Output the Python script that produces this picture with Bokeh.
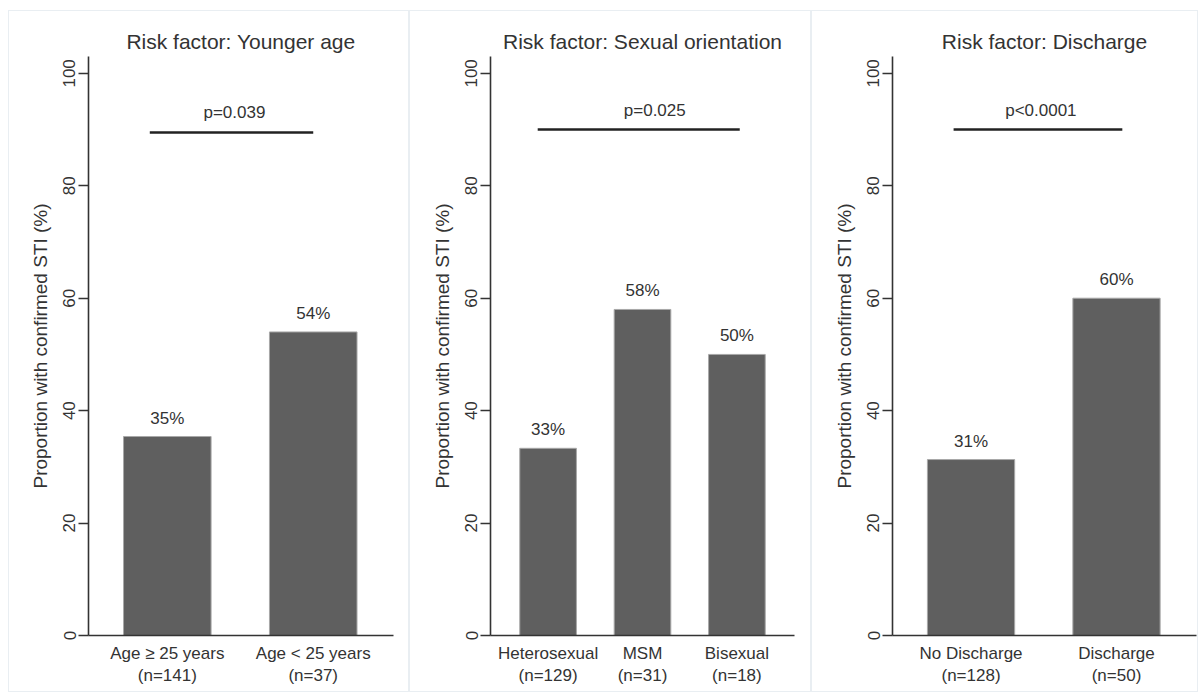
from bokeh.plotting import figure
from bokeh.layouts import row, column
from bokeh.models import FixedTicker, Range1d, ColumnDataSource, Spacer
from bokeh.core.properties import value
from bokeh.embed import file_html
from bokeh.resources import INLINE

# ---- data ----
titles = ["Risk factor: Younger age", "Risk factor: Sexual orientation", "Risk factor: Discharge"]

cats_age = ["Age \u2265 25 years", "Age < 25 years"]
n_age = [141, 37]
pct_age = [35.4, 54.0]

cats_sex = ["Heterosexual", "MSM", "Bisexual"]
n_sex = [129, 31, 18]
pct_sex = [33.3, 58.0, 50.0]

cats_dis = ["No Discharge", "Discharge"]
n_dis = [128, 50]
pct_dis = [31.3, 60.0]

p_texts = ["p=0.039", "p=0.025", "p<0.0001"]
p_line_y = [89.5, 90.0, 90.0]
p_line_from = [0.88, 0.89, 0.88]
p_line_to = [2.0, 3.03, 2.04]
p_text_x = [1.46, 2.13, 1.48]

y_ticks = [0, 20, 40, 60, 80, 100]
y_label = "Proportion with confirmed STI (%)"

FONT = "Liberation Sans"
TXT = "#333333"
BAR = "#5f5f5f"

panels = [
    (cats_age, n_age, pct_age, (0.46, 2.55), 401, 79, 17),
    (cats_sex, n_sex, pct_sex, (0.39, 3.61), 402, 80, 18),
    (cats_dis, n_dis, pct_dis, (0.46, 2.55), 387, 80, 3),
]

figs = []
for i, (cats, ns, pcts, xr, w, bl, br) in enumerate(panels):
    xs = list(range(1, len(cats) + 1))
    p = figure(width=w, height=682, x_range=Range1d(*xr), y_range=Range1d(0, 103),
               output_backend="svg", toolbar_location=None, title=titles[i],
               min_border_left=bl, min_border_right=br, min_border_top=45, min_border_bottom=58,
               styles={"border": "1px solid #e9eef2", "box-sizing": "border-box"})
    p.title.align = "center"
    p.title.text_font = FONT
    p.title.text_font_size = "21px"
    p.title.text_font_style = "normal"
    p.title.text_color = TXT
    p.title.standoff = 8
    p.grid.visible = False
    p.outline_line_color = None

    src = ColumnDataSource(dict(x=xs, top=pcts, lab=[f"{round(v)}%" for v in pcts]))
    p.vbar(x="x", top="top", width=0.6, source=src, fill_color=BAR, line_color="#a8a8a8", line_width=1)
    p.text(x="x", y="top", text="lab", source=src, text_align="center", text_baseline="bottom",
           y_offset=-9, text_font=value(FONT), text_font_size="17px", text_color=TXT)

    p.line(x=[p_line_from[i], p_line_to[i]], y=[p_line_y[i], p_line_y[i]], line_width=2.5, line_color="#222222")
    p.text(x=[p_text_x[i]], y=[p_line_y[i]], text=[p_texts[i]], text_align="center", text_baseline="bottom",
           y_offset=-10, text_font=value(FONT), text_font_size="17px", text_color=TXT)

    xa = p.xaxis[0]
    xa.ticker = FixedTicker(ticks=xs)
    xa.major_label_overrides = {x: f"{c}\n(n={n})" for x, c, n in zip(xs, cats, ns)}
    xa.major_tick_out = 0
    xa.major_tick_in = 0
    xa.minor_tick_out = 0
    xa.minor_tick_in = 0
    xa.major_label_standoff = 8
    xa.major_label_text_font = FONT
    xa.major_label_text_font_size = "17px"
    xa.major_label_text_color = TXT
    xa.axis_line_color = "#333333"
    xa.axis_line_width = 1.6

    ya = p.yaxis[0]
    ya.ticker = FixedTicker(ticks=y_ticks)
    ya.major_label_orientation = "vertical"
    ya.major_tick_out = 10
    ya.major_tick_in = 0
    ya.minor_tick_out = 0
    ya.minor_tick_in = 0
    ya.major_tick_line_color = "#333333"
    ya.major_tick_line_width = 1.4
    ya.major_label_standoff = 3
    ya.major_label_text_font = FONT
    ya.major_label_text_font_size = "17px"
    ya.major_label_text_color = TXT
    ya.axis_line_color = "#333333"
    ya.axis_line_width = 1.6
    ya.axis_label = y_label
    ya.axis_label_text_font = FONT
    ya.axis_label_text_font_size = "19px"
    ya.axis_label_text_font_style = "normal"
    ya.axis_label_text_color = TXT
    ya.axis_label_standoff = 10
    figs.append(p)

layout = column(Spacer(height=10), row(Spacer(width=8), *figs))
open("out.html", "w").write(file_html(layout, INLINE))
